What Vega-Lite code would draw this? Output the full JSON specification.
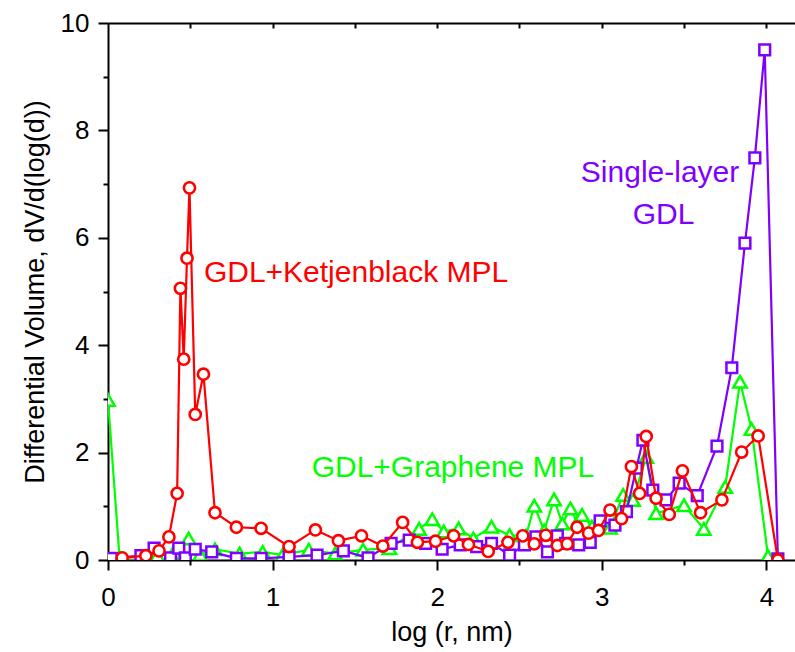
{
  "$schema": "https://vega.github.io/schema/vega-lite/v6.json",
  "width": 687,
  "height": 537,
  "autosize": "none",
  "padding": {"left": 108, "top": 23, "right": 0, "bottom": 92},
  "background": "white",
  "config": {
    "view": {"stroke": null},
    "font": "Liberation Sans",
    "axis": {
      "grid": false,
      "domainColor": "black",
      "domainWidth": 2,
      "tickColor": "black",
      "tickWidth": 2,
      "labelColor": "black",
      "labelFont": "Liberation Sans",
      "labelFontSize": 26,
      "labelFlush": false,
      "titleFont": "Liberation Sans",
      "titleFontSize": 27,
      "titleFontWeight": "normal",
      "titleColor": "black"
    }
  },
  "datasets": {
    "green": [
      {"x": 0.0, "y": 2.98}, {"x": 0.07, "y": 0.05}, {"x": 0.2, "y": 0.05}, {"x": 0.3, "y": 0.08}, {"x": 0.4, "y": 0.15},
      {"x": 0.49, "y": 0.4}, {"x": 0.56, "y": 0.1}, {"x": 0.65, "y": 0.2}, {"x": 0.8, "y": 0.12}, {"x": 0.94, "y": 0.15},
      {"x": 1.06, "y": 0.09}, {"x": 1.22, "y": 0.19}, {"x": 1.38, "y": 0.12}, {"x": 1.55, "y": 0.19}, {"x": 1.71, "y": 0.22},
      {"x": 1.89, "y": 0.58}, {"x": 1.97, "y": 0.76}, {"x": 2.04, "y": 0.53}, {"x": 2.13, "y": 0.59}, {"x": 2.22, "y": 0.4},
      {"x": 2.33, "y": 0.62}, {"x": 2.44, "y": 0.46}, {"x": 2.54, "y": 0.45}, {"x": 2.59, "y": 1.01}, {"x": 2.65, "y": 0.55},
      {"x": 2.71, "y": 1.13}, {"x": 2.76, "y": 0.68}, {"x": 2.81, "y": 0.96}, {"x": 2.85, "y": 0.7}, {"x": 2.88, "y": 0.84},
      {"x": 2.94, "y": 0.62}, {"x": 3.05, "y": 0.6}, {"x": 3.13, "y": 1.21}, {"x": 3.19, "y": 1.12}, {"x": 3.27, "y": 1.92},
      {"x": 3.33, "y": 0.87}, {"x": 3.5, "y": 1.02}, {"x": 3.62, "y": 0.58}, {"x": 3.75, "y": 1.36}, {"x": 3.84, "y": 3.32},
      {"x": 3.91, "y": 2.44}, {"x": 4.01, "y": 0.07}
    ],
    "purple": [
      {"x": 0.02, "y": 0.03}, {"x": 0.2, "y": 0.08}, {"x": 0.28, "y": 0.22}, {"x": 0.38, "y": 0.04}, {"x": 0.43, "y": 0.22},
      {"x": 0.47, "y": 0.04}, {"x": 0.53, "y": 0.2}, {"x": 0.63, "y": 0.15}, {"x": 0.78, "y": 0.03}, {"x": 0.93, "y": 0.03},
      {"x": 1.1, "y": 0.06}, {"x": 1.27, "y": 0.09}, {"x": 1.43, "y": 0.17}, {"x": 1.58, "y": 0.04}, {"x": 1.72, "y": 0.31},
      {"x": 1.83, "y": 0.37}, {"x": 1.93, "y": 0.31}, {"x": 2.03, "y": 0.2}, {"x": 2.14, "y": 0.28}, {"x": 2.24, "y": 0.25},
      {"x": 2.33, "y": 0.31}, {"x": 2.44, "y": 0.09}, {"x": 2.53, "y": 0.28}, {"x": 2.6, "y": 0.43}, {"x": 2.67, "y": 0.15},
      {"x": 2.73, "y": 0.45}, {"x": 2.78, "y": 0.31}, {"x": 2.86, "y": 0.28}, {"x": 2.93, "y": 0.33}, {"x": 2.99, "y": 0.73},
      {"x": 3.08, "y": 0.65}, {"x": 3.15, "y": 0.9}, {"x": 3.21, "y": 1.71}, {"x": 3.25, "y": 2.23}, {"x": 3.31, "y": 1.3},
      {"x": 3.39, "y": 1.12}, {"x": 3.47, "y": 1.43}, {"x": 3.58, "y": 1.2}, {"x": 3.7, "y": 2.12}, {"x": 3.79, "y": 3.58},
      {"x": 3.87, "y": 5.9}, {"x": 3.93, "y": 7.49}, {"x": 3.99, "y": 9.5}, {"x": 4.07, "y": 0.02}
    ],
    "red": [
      {"x": 0.086, "y": 0.04}, {"x": 0.23, "y": 0.08}, {"x": 0.31, "y": 0.17}, {"x": 0.37, "y": 0.43}, {"x": 0.42, "y": 1.24},
      {"x": 0.44, "y": 5.06}, {"x": 0.46, "y": 3.74}, {"x": 0.48, "y": 5.62}, {"x": 0.495, "y": 6.93}, {"x": 0.53, "y": 2.71},
      {"x": 0.58, "y": 3.46}, {"x": 0.65, "y": 0.88}, {"x": 0.78, "y": 0.61}, {"x": 0.93, "y": 0.59}, {"x": 1.1, "y": 0.25},
      {"x": 1.26, "y": 0.56}, {"x": 1.4, "y": 0.36}, {"x": 1.54, "y": 0.45}, {"x": 1.67, "y": 0.26}, {"x": 1.79, "y": 0.7},
      {"x": 1.88, "y": 0.33}, {"x": 1.99, "y": 0.35}, {"x": 2.1, "y": 0.45}, {"x": 2.19, "y": 0.29}, {"x": 2.31, "y": 0.16},
      {"x": 2.43, "y": 0.33}, {"x": 2.52, "y": 0.45}, {"x": 2.59, "y": 0.3}, {"x": 2.66, "y": 0.46}, {"x": 2.73, "y": 0.27},
      {"x": 2.79, "y": 0.3}, {"x": 2.85, "y": 0.61}, {"x": 2.92, "y": 0.5}, {"x": 2.98, "y": 0.55}, {"x": 3.05, "y": 0.93},
      {"x": 3.12, "y": 0.77}, {"x": 3.18, "y": 1.74}, {"x": 3.23, "y": 1.24}, {"x": 3.27, "y": 2.3}, {"x": 3.33, "y": 1.15},
      {"x": 3.41, "y": 0.85}, {"x": 3.49, "y": 1.66}, {"x": 3.6, "y": 0.88}, {"x": 3.73, "y": 1.12}, {"x": 3.85, "y": 2.01},
      {"x": 3.95, "y": 2.31}, {"x": 4.07, "y": 0.0}
    ],
    "labels": [
      {"series": "GDL+Ketjenblack MPL", "text": "GDL+Ketjenblack MPL", "x": 1.507, "y": 5.34},
      {"series": "Single-layer GDL", "text": "Single-layer", "x": 3.354, "y": 7.21},
      {"series": "Single-layer GDL", "text": "GDL", "x": 3.375, "y": 6.42},
      {"series": "GDL+Graphene MPL", "text": "GDL+Graphene MPL", "x": 2.096, "y": 1.71}
    ]
  },
  "resolve": {"axis": {"x": "independent", "y": "independent"}},
  "layer": [
    {
      "data": {"name": "green"},
      "mark": {"type": "line", "color": "#00FF00", "strokeWidth": 2.2, "clip": true},
      "encoding": {
        "x": {"field": "x", "type": "quantitative", "scale": {"domain": [0, 4.174], "nice": false, "zero": false},
          "axis": {"orient": "bottom", "values": [0, 1, 2, 3, 4], "tickSize": 10, "labelPadding": 14, "title": "log (r, nm)", "titlePadding": 9, "format": "d"}},
        "y": {"field": "y", "type": "quantitative", "scale": {"domain": [0, 10], "nice": false},
          "axis": {"orient": "left", "values": [0, 2, 4, 6, 8, 10], "tickSize": 10, "labelPadding": 9, "title": "Differential Volume, dV/d(log(d))", "titlePadding": 11, "format": "d"}}
      }
    },
    {
      "data": {"name": "green"},
      "mark": {"type": "point", "shape": "triangle-up", "filled": true, "fill": "white", "stroke": "#00FF00", "strokeWidth": 2.5, "size": 180, "opacity": 1, "clip": true},
      "encoding": {
        "x": {"field": "x", "type": "quantitative",
          "axis": {"orient": "bottom", "values": [0.5, 1.5, 2.5, 3.5], "tickSize": 5, "labels": false, "domain": false, "title": null}},
        "y": {"field": "y", "type": "quantitative",
          "axis": {"orient": "left", "values": [1, 3, 5, 7, 9], "tickSize": 5, "labels": false, "domain": false, "title": null}}
      }
    },
    {
      "data": {"name": "purple"},
      "mark": {"type": "line", "color": "#8000FF", "strokeWidth": 2.2, "clip": true},
      "encoding": {
        "x": {"field": "x", "type": "quantitative",
          "axis": {"orient": "top", "values": [0.5, 1, 1.5, 2, 2.5, 3, 3.5, 4], "tickSize": -5, "labels": false, "title": null}},
        "y": {"field": "y", "type": "quantitative", "axis": null}
      }
    },
    {
      "data": {"name": "purple"},
      "mark": {"type": "point", "shape": "square", "filled": true, "fill": "white", "stroke": "#8000FF", "strokeWidth": 2.5, "size": 115, "opacity": 1, "clip": true},
      "encoding": {
        "x": {"field": "x", "type": "quantitative", "axis": null},
        "y": {"field": "y", "type": "quantitative", "axis": null}
      }
    },
    {
      "data": {"name": "red"},
      "mark": {"type": "line", "color": "#FF0000", "strokeWidth": 2.2, "clip": true},
      "encoding": {
        "x": {"field": "x", "type": "quantitative", "axis": null},
        "y": {"field": "y", "type": "quantitative", "axis": null}
      }
    },
    {
      "data": {"name": "red"},
      "mark": {"type": "point", "shape": "circle", "filled": true, "fill": "white", "stroke": "#FF0000", "strokeWidth": 2.6, "size": 125, "opacity": 1, "clip": true},
      "encoding": {
        "x": {"field": "x", "type": "quantitative", "axis": null},
        "y": {"field": "y", "type": "quantitative", "axis": null}
      }
    },
    {
      "data": {"name": "labels"},
      "mark": {"type": "text", "fontSize": 30, "font": "Liberation Sans", "align": "center", "baseline": "middle"},
      "encoding": {
        "x": {"field": "x", "type": "quantitative", "axis": null},
        "y": {"field": "y", "type": "quantitative", "axis": null},
        "text": {"field": "text"},
        "color": {"field": "series", "type": "nominal", "legend": null,
          "scale": {"domain": ["GDL+Graphene MPL", "Single-layer GDL", "GDL+Ketjenblack MPL"], "range": ["#00FF00", "#8000FF", "#FF0000"]}}
      }
    }
  ]
}
